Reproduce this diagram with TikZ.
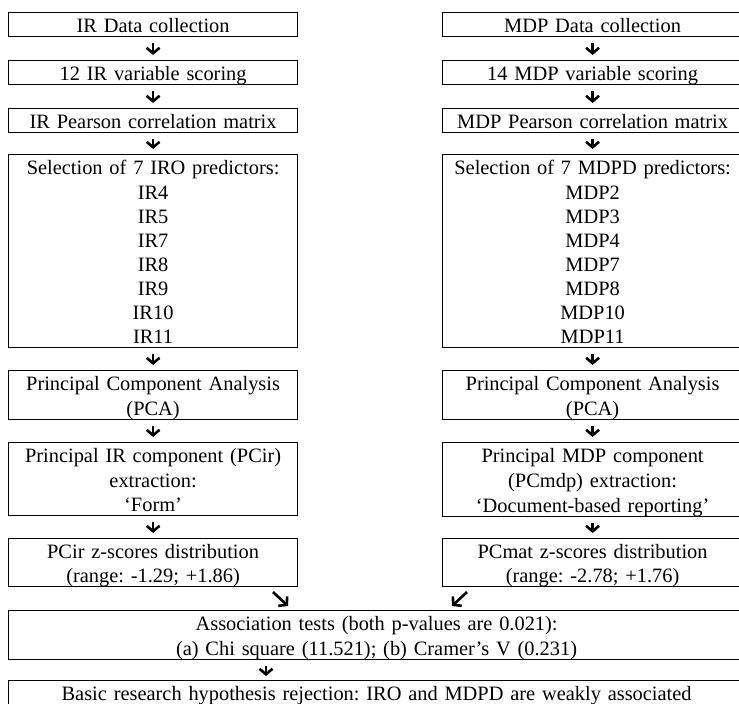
\documentclass[tikz,border=0pt]{standalone}
\usepackage{fontspec}
\setmainfont{Liberation Serif}
\usetikzlibrary{arrows.meta}
\frenchspacing
% line strut: every text line is 24pt tall, baseline 19.7pt below its top
\newcommand{\ls}{\rule[-4.3pt]{0pt}{24pt}}
% taller strut for the last step, whose box runs past the lower edge
\newcommand{\lsdeep}{\rule[-9.3pt]{0pt}{29pt}}
\begin{document}
\begin{tikzpicture}[x=1pt,y=-1pt,
  stepbox/.style={draw, line width=1.2pt, inner xsep=0pt, inner ysep=0pt,
    anchor=north west, align=center, font=\fontsize{20.4}{24}\selectfont},
  flow/.style={line width=2.6pt, -{Straight Barb[length=5.5pt,width=13pt]},
    shorten <=5.5pt, shorten >=5pt}]
\useasboundingbox (0,0) rectangle (739,704);
\clip (0,0) rectangle (739,704);

% left column (IR)
\node[stepbox, text width=289pt] (l1) at (8,12) {\ls IR Data collection};
\node[stepbox, text width=289pt] (l2) at (8,60) {\ls 12 IR variable scoring};
\node[stepbox, text width=289pt] (l3) at (8,108) {\ls IR Pearson correlation matrix};
\node[stepbox, text width=289pt] (l4) at (8,154) {\ls Selection of 7 IRO predictors:\\
  \ls IR4\\ \ls IR5\\ \ls IR7\\ \ls IR8\\ \ls IR9\\ \ls IR10\\ \ls IR11};
\node[stepbox, text width=289pt] (l5) at (8,370) {\ls Principal Component Analysis\\ \ls (PCA)};
\node[stepbox, text width=289pt] (l6) at (8,442) {\ls Principal IR component (PCir)\\
  \ls extraction:\\ \ls ‘Form’};
\node[stepbox, text width=289pt] (l7) at (8,538) {\ls PCir z-scores distribution\\
  \ls (range: -1.29; +1.86)};

% right column (MDP)
\node[stepbox, text width=300pt] (r1) at (442,12) {\ls MDP Data collection};
\node[stepbox, text width=300pt] (r2) at (442,60) {\ls 14 MDP variable scoring};
\node[stepbox, text width=300pt] (r3) at (442,108) {\ls MDP Pearson correlation matrix};
\node[stepbox, text width=300pt] (r4) at (442,154) {\ls Selection of 7 MDPD predictors:\\
  \ls MDP2\\ \ls MDP3\\ \ls MDP4\\ \ls MDP7\\ \ls MDP8\\ \ls MDP10\\ \ls MDP11};
\node[stepbox, text width=300pt] (r5) at (442,370) {\ls Principal Component Analysis\\ \ls (PCA)};
\node[stepbox, text width=300pt] (r6) at (442,442) {\ls Principal MDP component\\
  \ls (PCmdp) extraction:\\ \ls ‘Document-based reporting’};
\node[stepbox, text width=300pt] (r7) at (442,538) {\ls PCmat z-scores distribution\\
  \ls (range: -2.78; +1.76)};

% joint steps
\node[stepbox, text width=736pt] (assoc) at (8,610) {\ls Association tests (both p-values are 0.021):\\
  \ls (a) Chi square (11.521); (b) Cramer’s V (0.231)};
\node[stepbox, text width=736pt] (final) at (8,680) {\lsdeep Basic research hypothesis rejection: IRO and MDPD are weakly associated};

% column flows
\foreach \a/\b in {l1/l2,l2/l3,l3/l4,l4/l5,l5/l6,l6/l7,r1/r2,r2/r3,r3/r4,r4/r5,r5/r6,r6/r7}
  \draw[flow] (\a) -- (\b);

% merging arrows
\coordinate (ma) at (273,592);
\coordinate (mb) at (288,606);
\coordinate (na) at (467,592);
\coordinate (nb) at (452,606);
\draw[flow, shorten <=0pt, shorten >=0pt] (ma) -- (mb);
\draw[flow, shorten <=0pt, shorten >=0pt] (na) -- (nb);

% conclusion arrow
\coordinate (dx) at (266,0);
\draw[flow, shorten >=4pt] (assoc.south -| dx) -- (final.north -| dx);
\end{tikzpicture}
\end{document}
